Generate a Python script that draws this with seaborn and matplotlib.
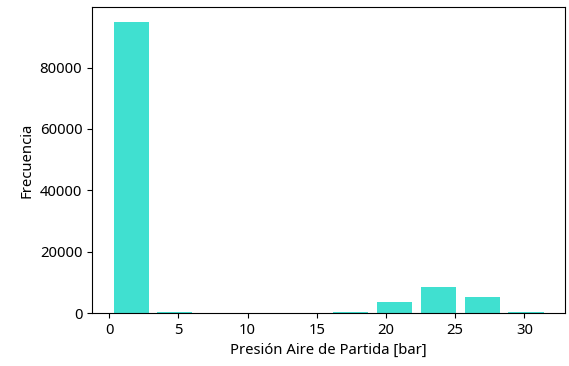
import numpy as np
import matplotlib
matplotlib.use("Agg")
import matplotlib.pyplot as plt
import seaborn as sns

# Histogram of starting-air pressure: bin edges and counts per bin
bin_edges = [0.0, 3.17, 6.34, 9.51, 12.68, 15.85, 19.02, 22.19, 25.36, 28.53, 31.7]
counts = [95000, 450, 0, 0, 0, 380, 3500, 8400, 5150, 350]
bin_centers = [(a + b) / 2 for a, b in zip(bin_edges[:-1], bin_edges[1:])]

plt.rcParams['font.family'] = ['Noto Sans', 'DejaVu Sans']
plt.rcParams['font.size'] = 10.7

fig = plt.figure(figsize=(5.69, 3.66), dpi=100)
ax = fig.add_axes([0.1617, 0.1448, 0.8313, 0.8362])

sns.histplot(x=bin_centers, weights=counts, bins=bin_edges, shrink=0.8,
             color='turquoise', alpha=1.0, edgecolor='none', linewidth=0, ax=ax)

ax.set_xlabel('Presión Aire de Partida [bar]')
ax.set_ylabel('Frecuencia')
ax.set_xticks([0, 5, 10, 15, 20, 25, 30])
ax.set_yticks([0, 20000, 40000, 60000, 80000])

fig.savefig('out.png', dpi=100)
